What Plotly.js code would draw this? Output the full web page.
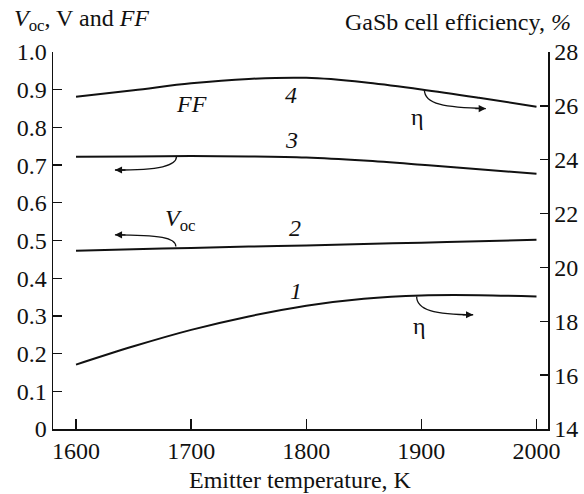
<!DOCTYPE html>
<html>
<head>
<meta charset="utf-8">
<script src="https://cdn.plot.ly/plotly-3.0.1.min.js"></script>
<style>
html,body{margin:0;padding:0;background:#fff;}
#chart{width:584px;height:494px;}
#chart svg text, #chart svg tspan{font-family:"Liberation Serif","Times New Roman",serif !important;}
</style>
</head>
<body>
<div id="chart"></div>
<script>
// Emitter temperature, K
const temps = [1600, 1650, 1700, 1750, 1800, 1850, 1900, 1950, 2000];
// Curve 1: GaSb cell efficiency, % (right axis)
const eta1 = [16.39, 17.07, 17.68, 18.18, 18.58, 18.84, 18.96, 18.97, 18.92];
// Curve 2: Voc, V (left axis)
const voc2 = [0.473, 0.477, 0.480, 0.484, 0.487, 0.491, 0.494, 0.498, 0.502];
// Curve 3: FF (left axis)
const ff3 = [0.722, 0.723, 0.724, 0.723, 0.720, 0.712, 0.701, 0.689, 0.677];
// Curve 4: GaSb cell efficiency, % (right axis)
const eta4 = [26.34, 26.58, 26.84, 27.00, 27.04, 26.88, 26.61, 26.30, 25.97];

const xTicks = [1600, 1700, 1800, 1900, 2000];
const yTicks = [0, 0.1, 0.2, 0.3, 0.4, 0.5, 0.6, 0.7, 0.8, 0.9, 1.0];
const yTickText = ["0", "0.1", "0.2", "0.3", "0.4", "0.5", "0.6", "0.7", "0.8", "0.9", "1.0"];
const y2Ticks = [14, 16, 18, 20, 22, 24, 26, 28];

(function () {
  const fam = "Liberation Serif";
  const ink = "#111111";
  const lineStyle = {color: ink, width: 2, shape: "spline", smoothing: 1};
  const tf = () => ({family: fam, size: 24, color: ink});

  const traces = [
    {x: temps, y: eta1, yaxis: "y2", mode: "lines", line: lineStyle},
    {x: temps, y: voc2, mode: "lines", line: lineStyle},
    {x: temps, y: ff3, mode: "lines", line: lineStyle},
    {x: temps, y: eta4, yaxis: "y2", mode: "lines", line: lineStyle}
  ];

  const mkLabel = (text, x, y) => ({text: text, x: x, y: y, xref: "x", yref: "y", showarrow: false,
    font: tf(), xanchor: "center", yanchor: "middle"});
  const mkHead = (x, y, ax) => ({text: "", x: x, y: y, xref: "x", yref: "y", ax: ax, ay: 0, showarrow: true,
    arrowhead: 2, arrowsize: 1.1, arrowwidth: 1.3, arrowcolor: ink, standoff: 0});
  const mkPath = (p) => ({type: "path", xref: "x", yref: "y", line: {color: ink, width: 1.3},
    path: "M" + p[0] + "," + p[1] + " C" + p[2] + "," + p[3] + " " + p[4] + "," + p[5] + " " + p[6] + "," + p[7]});

  const layout = {
    width: 584, height: 494,
    margin: {l: 53, r: 36, t: 52, b: 65},
    showlegend: false,
    font: tf(),
    xaxis: {range: [1580, 2010], tickvals: xTicks, ticks: "inside", ticklen: 10, tickwidth: 1.3,
      tickcolor: ink, showline: true, linecolor: ink, linewidth: 1.5, showgrid: false, zeroline: false},
    yaxis: {range: [0, 1], tickvals: yTicks, ticktext: yTickText, ticks: "inside", ticklen: 9, tickwidth: 1.3,
      tickcolor: ink, showline: true, linecolor: ink, linewidth: 1.5, showgrid: false, zeroline: false},
    yaxis2: {range: [14, 28], tickvals: y2Ticks, overlaying: "y", side: "right", ticks: "inside", ticklen: 8,
      tickwidth: 1.3, tickcolor: ink, showline: true, linecolor: ink, linewidth: 1.5, showgrid: false,
      zeroline: false},
    shapes: [
      mkPath([1902.6, 0.900, 1902.6, 0.862, 1920, 0.852, 1956, 0.850]),
      mkPath([1687.3, 0.7225, 1687.3, 0.698, 1672.9, 0.687, 1633.8, 0.687]),
      mkPath([1686.7, 0.484, 1686.7, 0.507, 1672.8, 0.515, 1633.8, 0.515]),
      mkPath([1895.9, 0.3514, 1895.9, 0.316, 1911.2, 0.303, 1945, 0.303])
    ],
    annotations: [
      mkHead(1956, 0.850, -12),
      mkHead(1633.8, 0.687, 12),
      mkHead(1633.8, 0.515, 12),
      mkHead(1945, 0.303, -12),
      mkLabel("<i>FF</i>", 1700.6, 0.862),
      mkLabel("<i>4</i>", 1787, 0.886),
      mkLabel("<i>3</i>", 1787, 0.767),
      mkLabel("<i>2</i>", 1790.5, 0.533),
      mkLabel("<i>1</i>", 1791, 0.367),
      mkLabel("<i>V</i><sub>oc</sub>", 1690.8, 0.554),
      mkLabel("η", 1896.5, 0.828),
      mkLabel("η", 1898.2, 0.272),
      {text: "<i>V</i><sub>oc</sub>, V and <i>FF</i>", xref: "paper", yref: "paper", x: -0.0827, y: 1.04,
        xanchor: "left", yanchor: "bottom", showarrow: false, font: tf()},
      {text: "GaSb cell efficiency, <i>%</i>", xref: "paper", yref: "paper", x: 1.0504, y: 1.04,
        xanchor: "right", yanchor: "bottom", showarrow: false, font: tf()},
      {text: "Emitter temperature, K", xref: "paper", yref: "paper", x: 0.5, y: -0.134,
        xanchor: "center", yanchor: "middle", showarrow: false, font: tf()}
    ]
  };

  Plotly.newPlot("chart", traces, layout, {staticPlot: true});
})();
</script>
</body>
</html>
